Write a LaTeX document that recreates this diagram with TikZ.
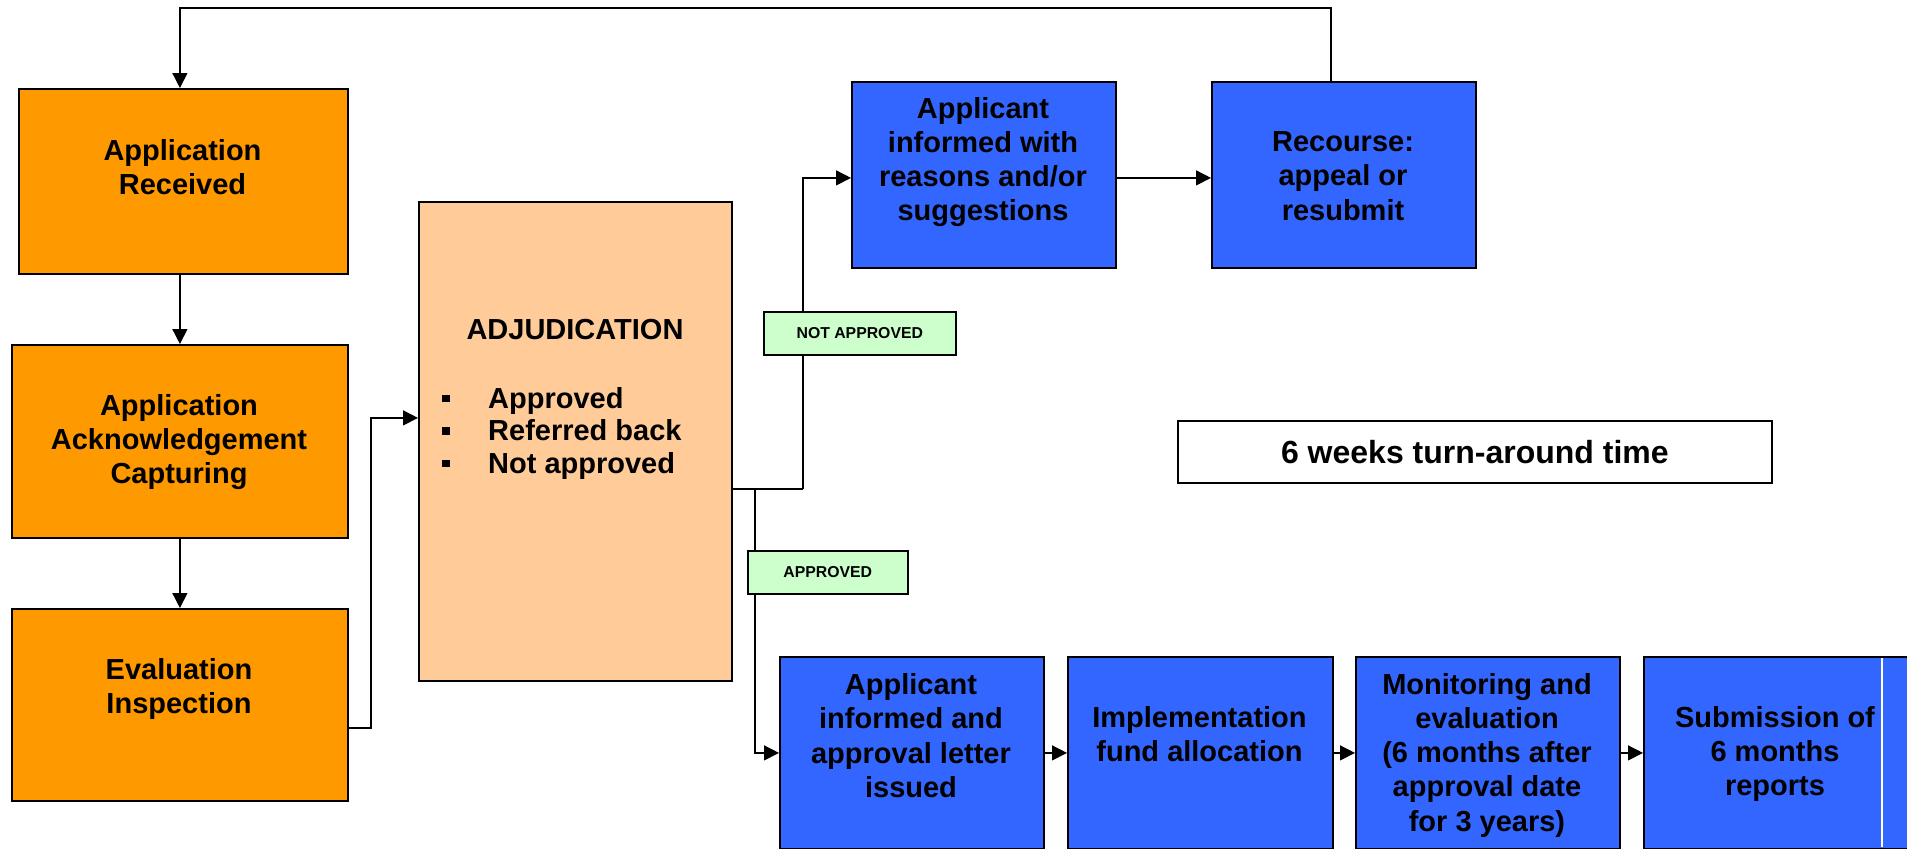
\documentclass[tikz,border=0pt]{standalone}
\usepackage{fontspec}
\setmainfont{Liberation Sans}
\usetikzlibrary{arrows.meta}
\definecolor{orangeA}{HTML}{FF9900}
\definecolor{peachA}{HTML}{FFCC99}
\definecolor{blueA}{HTML}{3366FF}
\definecolor{greenA}{HTML}{CCFFCC}
\newcommand{\mlines}[1]{\begin{tabular}[t]{@{}c@{}}#1\end{tabular}}
\newcommand{\sqbul}{\makebox[46pt][l]{\rule[6pt]{7.5pt}{7.5pt}}}
\begin{document}
\begin{tikzpicture}[x=1pt,y=-1pt,
  boxbase/.style={draw=black, line width=1.8pt, inner sep=0pt, anchor=north west},
  orangebox/.style={boxbase, fill=orangeA},
  peachbox/.style={boxbase, fill=peachA},
  bluebox/.style={boxbase, fill=blueA},
  greenlab/.style={draw=black, line width=1.6pt, fill=greenA, inner sep=0pt, anchor=north west,
    font=\fontsize{15.8}{18}\selectfont\bfseries},
  whitebox/.style={draw=black, line width=1.8pt, fill=white, inner sep=0pt, anchor=north west,
    font=\fontsize{32}{36}\selectfont\bfseries},
  txt/.style={inner sep=0pt, anchor=base, font=\fontsize{29}{34.3}\selectfont\bfseries},
  conn/.style={line width=1.4pt},
  arr/.style={conn, -{Triangle[length=15pt,width=15pt]}},
]
\useasboundingbox (0,0) rectangle (1907,849);
\fill[white] (0,0) rectangle (1907,849);

% boxes
\node[orangebox, minimum width=329pt, minimum height=185pt] (apprec) at (18,88) {};
\node[orangebox, minimum width=336pt, minimum height=193pt] (ack) at (11,344) {};
\node[orangebox, minimum width=336pt, minimum height=192pt] (eval) at (11,608) {};
\node[peachbox, minimum width=313pt, minimum height=479pt] (adj) at (418,201) {};
\node[bluebox, minimum width=264pt, minimum height=186pt] (inf) at (851,81) {};
\node[bluebox, minimum width=264pt, minimum height=186pt] (rec) at (1211,81) {};
\node[bluebox, minimum width=264pt, minimum height=192pt] (ainf) at (779,656) {};
\node[bluebox, minimum width=265pt, minimum height=192pt] (impl) at (1067,656) {};
\node[bluebox, minimum width=264pt, minimum height=192pt] (mon) at (1355,656) {};
\node[bluebox, minimum width=272pt, minimum height=192pt] (sub) at (1643,656) {};
\draw[white, line width=2pt] (1882,658) -- (1882,847);
\node[whitebox, minimum width=594pt, minimum height=62pt] (six) at (1177,420) {6 weeks turn-around time};

% texts
\node[txt] (tApprec) at (182.5,160) {\mlines{Application\\Received}};
\node[txt] (tAck) at (179,415) {\mlines{Application\\Acknowledgement\\Capturing}};
\node[txt] (tEval) at (179,679) {\mlines{Evaluation\\Inspection}};
\node[txt] (tAdj) at (575,339) {ADJUDICATION};
\node[txt, anchor=base west, font=\fontsize{29}{32.5}\selectfont\bfseries] (tList) at (442,408)
  {\begin{tabular}[t]{@{}l@{}l@{}}\sqbul & Approved\\ \sqbul & Referred back\\ \sqbul & Not approved\end{tabular}};
\node[txt] (tInf) at (983,118) {\mlines{Applicant\\informed with\\reasons and/or\\suggestions}};
\node[txt] (tRec) at (1343,151.5) {\mlines{Recourse:\\appeal or\\resubmit}};
\node[txt] (tAinf) at (911,694.5) {\mlines{Applicant\\informed and\\approval letter\\issued}};
\node[txt] (tImpl) at (1199.5,727.5) {\mlines{Implementation\\fund allocation}};
\node[txt] (tMon) at (1487,694) {\mlines{Monitoring and\\evaluation\\(6 months after\\approval date\\for 3 years)}};
\node[txt] (tSub) at (1775,727) {\mlines{Submission of\\6 months\\reports}};

% connectors
\coordinate (loop) at (1331,8);
\draw[arr] (rec.north -| loop) -- (loop) -| (ack.north |- apprec.north);
\draw[arr] (ack.north |- apprec.south) -- (ack.north);
\draw[arr] (ack.south) -- (eval.north);
\coordinate (ej) at (371,728);
\draw[arr] (eval.east |- ej) -- (ej) |- ([yshift=23.5pt]adj.west);
\coordinate (bra) at (803,489);
\coordinate (brb) at (755,489);
\draw[conn] (adj.east |- bra) -- (bra);
\draw[arr] (bra) |- ([yshift=-3pt]inf.west);
\draw[arr] (brb) |- (ainf.west);
\draw[arr] ([yshift=-3pt]inf.east) -- ([yshift=-3pt]rec.west);
\draw[arr] (ainf.east) -- (impl.west);
\draw[arr] (impl.east) -- (mon.west);
\draw[arr] (mon.east) -- (sub.west);

% labels
\node[greenlab, minimum width=192pt, minimum height=43pt] (nap) at (763,311) {NOT APPROVED};
\node[greenlab, minimum width=160pt, minimum height=43pt] (apr) at (747,550) {APPROVED};
\end{tikzpicture}
\end{document}
